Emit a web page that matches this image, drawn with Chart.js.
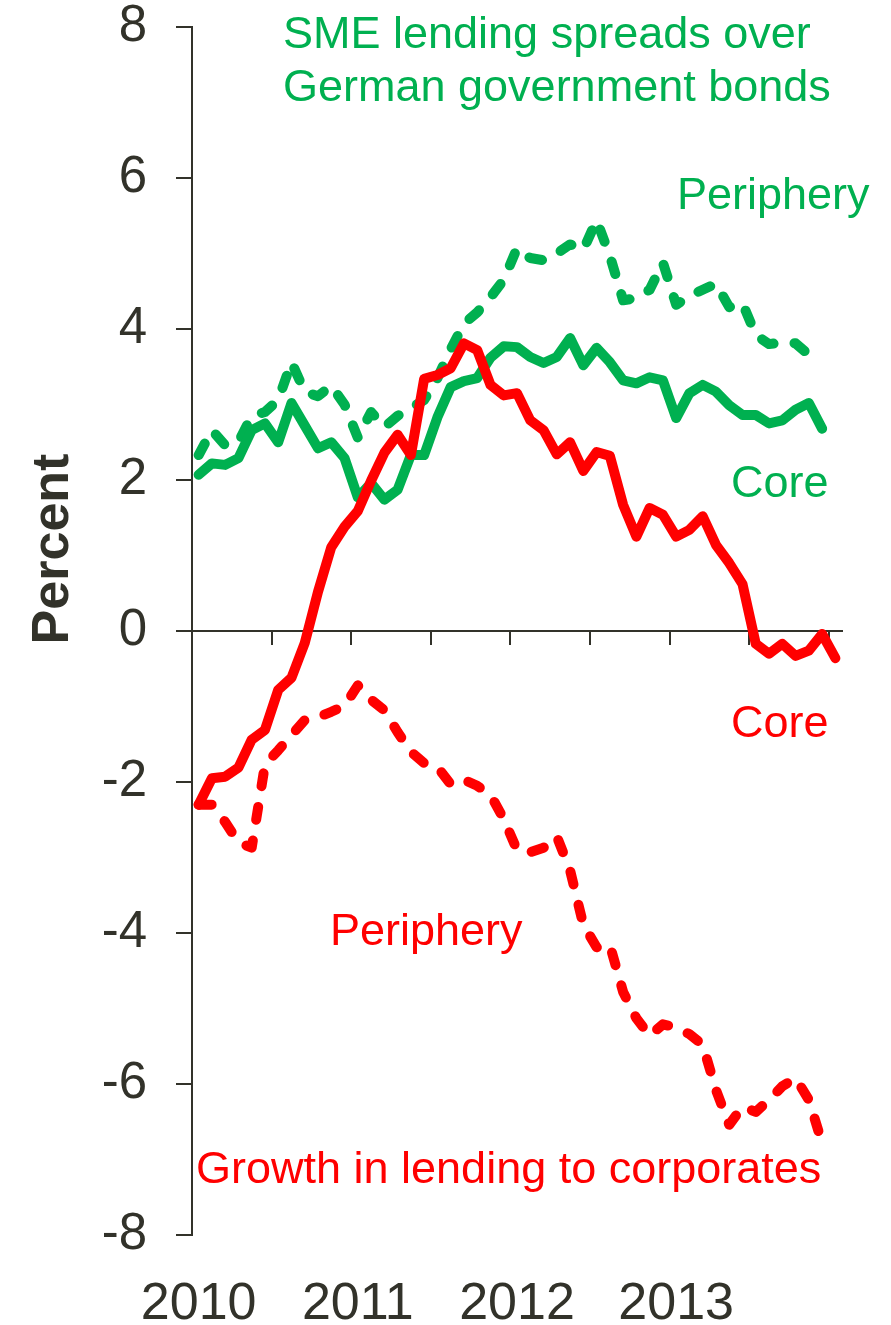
<!DOCTYPE html>
<html>
<head>
<meta charset="utf-8">
<script src="https://cdn.jsdelivr.net/npm/chart.js@4.4.0/dist/chart.umd.min.js"></script>
<style>
html, body { margin: 0; padding: 0; background: #fff; }
#wrap { width: 891px; height: 1325px; }
</style>
</head>
<body>
<div id="wrap"><canvas id="chart" width="891" height="1325"></canvas></div>
<script>
// monthly, Jan 2010 = index 0
const yearLabels = ['2010', '2011', '2012', '2013'];
const yearTickIdx = [0, 12, 24, 36];

// growth in lending to corporates (red)
const lendingCore = [-2.30, -1.95, -1.93, -1.81, -1.44, -1.31, -0.78, -0.62, -0.16,
    0.52, 1.11, 1.38, 1.59, 1.99, 2.36, 2.60, 2.33,
    3.34, 3.39, 3.48, 3.81, 3.72, 3.26, 3.12, 3.15,
    2.79, 2.66, 2.34, 2.50, 2.12, 2.37, 2.32, 1.67,
    1.25, 1.63, 1.54, 1.25, 1.34, 1.52, 1.14, 0.90,
    0.62, -0.17, -0.30, -0.17, -0.33, -0.26, -0.04, -0.36];
const lendingPeriphery = [-2.30, -2.30, -2.53, -2.80, -2.87, -1.77, -1.58, -1.38,
    -1.18, -1.14, -1.07, -0.99, -0.72, -0.91, -1.05, -1.34,
    -1.60, -1.75, -1.80, -2.03, -1.97, -2.05, -2.17, -2.49,
    -2.90, -2.93, -2.87, -2.72, -3.17, -3.89, -4.19, -4.16,
    -4.78, -5.13, -5.36, -5.21, -5.25, -5.34, -5.48, -6.08,
    -6.54, -6.30, -6.37, -6.21, -6.03, -5.92, -6.21, -6.78];

// SME lending spreads over German bonds (green)
const spreadCore = [2.07, 2.22, 2.20, 2.29, 2.66, 2.75, 2.50, 3.02,
    2.72, 2.42, 2.50, 2.29, 1.77, 1.96, 1.74, 1.87,
    2.33, 2.33, 2.83, 3.23, 3.31, 3.35, 3.62, 3.77,
    3.76, 3.63, 3.55, 3.63, 3.88, 3.52, 3.75, 3.56,
    3.32, 3.28, 3.36, 3.32, 2.82, 3.15, 3.26, 3.17,
    2.99, 2.86, 2.86, 2.75, 2.79, 2.93, 3.02, 2.68];
const spreadPeriphery = [2.33, 2.66, 2.46, 2.50, 2.85, 2.90, 3.06, 3.56,
    3.17, 3.11, 3.25, 3.00, 2.56, 2.90, 2.70, 2.85,
    2.95, 3.06, 3.35, 3.73, 4.07, 4.22, 4.42, 4.65,
    5.07, 4.94, 4.91, 5.00, 5.12, 5.05, 5.44, 4.97,
    4.38, 4.41, 4.52, 4.88, 4.32, 4.44, 4.52, 4.60,
    4.29, 4.34, 3.92, 3.80, 3.82, 3.81, 3.66];

const GREEN = '#00B050';
const RED = '#FF0000';
const AXIS = '#32322a';
const FONT = "'Liberation Sans', Arial, sans-serif";

const pts = arr => arr.map((v, i) => ({ x: i, y: v }));

function line(data, color, dashed) {
    return {
        data: pts(data),
        borderColor: color,
        borderWidth: 10,
        borderCapStyle: 'round',
        borderJoinStyle: 'round',
        borderDash: dashed ? [13, 21] : [],
        pointRadius: 0,
        tension: 0,
        fill: false
    };
}

// text labels drawn over the chart
const labelsPlugin = {
    id: 'labels',
    afterDraw(chart) {
        const c = chart.ctx;
        c.save();
        c.textAlign = 'left';
        c.textBaseline = 'alphabetic';
        c.font = '45px ' + FONT;
        c.fillStyle = GREEN;
        c.fillText('SME lending spreads over', 283, 48);
        c.fillText('German government bonds', 283, 101);
        c.fillText('Periphery', 677, 209);
        c.fillText('Core', 731, 497);
        c.fillStyle = RED;
        c.fillText('Core', 731, 737);
        c.fillText('Periphery', 330, 945);
        c.fillText('Growth in lending to corporates', 196, 1183);

        c.translate(68, 549);
        c.rotate(-Math.PI / 2);
        c.textAlign = 'center';
        c.font = 'bold 52px ' + FONT;
        c.fillStyle = AXIS;
        c.fillText('Percent', 0, 0);
        c.restore();
    }
};

new Chart(document.getElementById('chart'), {
    type: 'line',
    data: {
        datasets: [
            line(lendingCore, RED, false),
            line(lendingPeriphery, RED, true),
            line(spreadCore, GREEN, false),
            line(spreadPeriphery, GREEN, true)
        ]
    },
    options: {
        responsive: false,
        animation: false,
        layout: { padding: { top: 27, right: 49, left: 0, bottom: 0 } },
        plugins: { legend: { display: false }, tooltip: { enabled: false } },
        scales: {
            x: {
                type: 'linear',
                min: -0.5,
                max: 48.5,
                position: { y: 0 },
                afterBuildTicks: s => {
                    s.ticks = [];
                    for (let k = 0; k <= 8; k++) s.ticks.push({ value: -0.5 + 6 * k });
                },
                ticks: { display: false },
                grid: { drawOnChartArea: false, drawTicks: true, tickLength: 13, color: AXIS, lineWidth: 2 },
                border: { color: AXIS, width: 2 }
            },
            x2: {
                type: 'linear',
                axis: 'x',
                min: -0.5,
                max: 48.5,
                position: 'bottom',
                afterBuildTicks: s => {
                    s.ticks = yearTickIdx.map(v => ({ value: v }));
                },
                ticks: {
                    autoSkip: false,
                    maxRotation: 0,
                    padding: 44,
                    color: AXIS,
                    font: { family: FONT, size: 52, lineHeight: 1 },
                    callback: v => yearLabels[yearTickIdx.indexOf(v)]
                },
                grid: { display: false, drawTicks: false },
                border: { display: false },
                afterFit: s => { s.height = 90; }
            },
            y: {
                min: -8,
                max: 8,
                ticks: {
                    stepSize: 2,
                    padding: 29,
                    color: AXIS,
                    font: { family: FONT, size: 51, lineHeight: 1 }
                },
                grid: { drawOnChartArea: false, drawTicks: true, tickLength: 16, color: AXIS, lineWidth: 2 },
                border: { color: AXIS, width: 2 },
                afterFit: s => {
                    s.width = 192;
                    s.paddingTop = 0;
                    s.paddingBottom = 0;
                }
            }
        }
    },
    plugins: [labelsPlugin]
});
</script>
</body>
</html>
